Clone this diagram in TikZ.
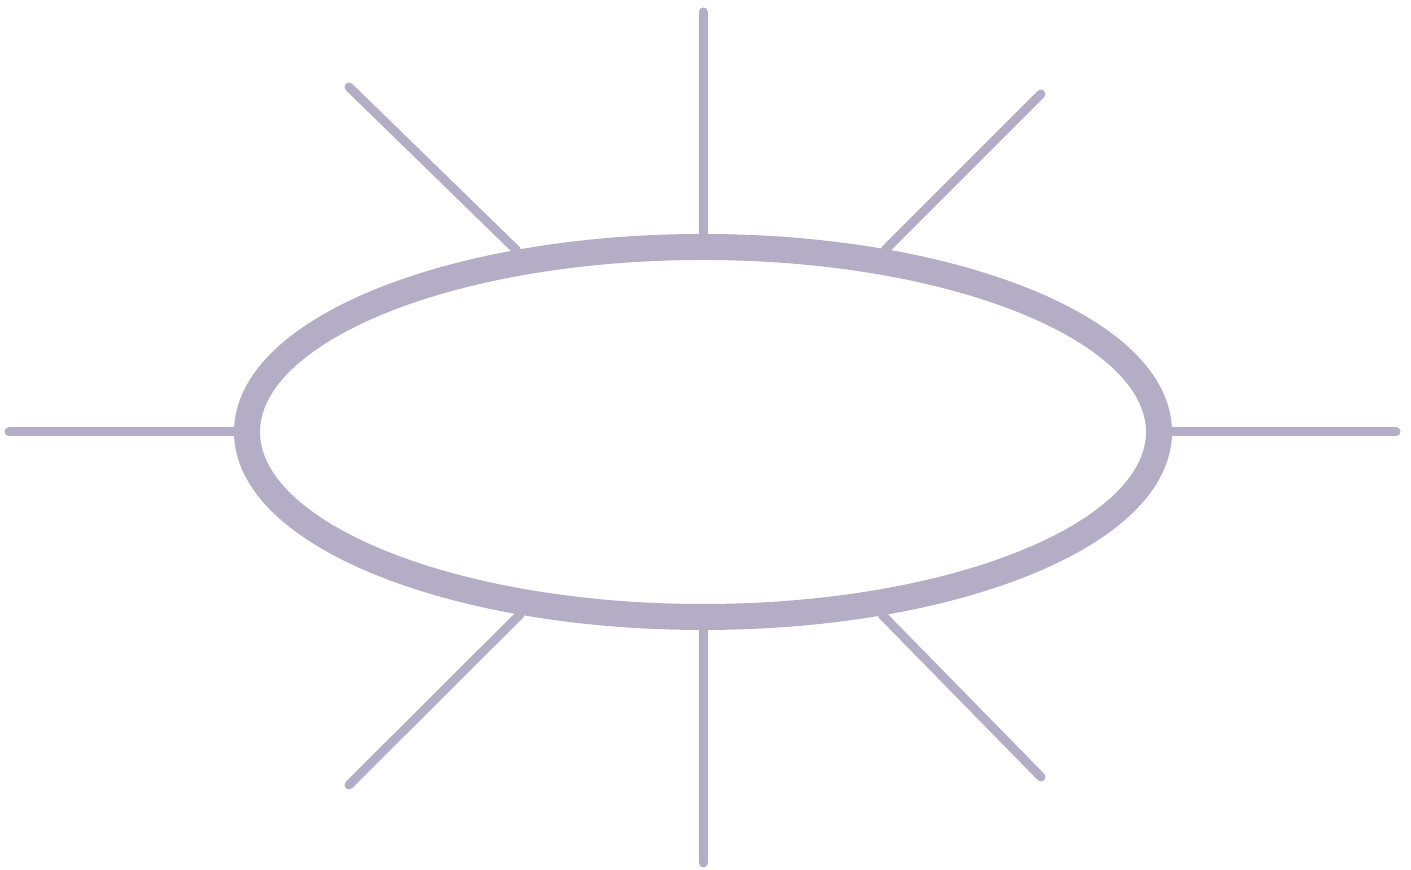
\documentclass[tikz,border=0pt]{standalone}
\usetikzlibrary{shapes.geometric}

\definecolor{lilac}{RGB}{181,173,198}

\begin{document}
\begin{tikzpicture}[
    hub/.style={ellipse, draw=lilac, line width=0.26cm, inner sep=0pt,
                minimum width=9.12cm, minimum height=3.70cm},
    spoke/.style={draw=lilac, line width=0.09cm, line cap=round}
]
    \useasboundingbox (0,0) rectangle (14.11,8.70);

    % Central ring
    \node[hub] (ring) at (7.03, 4.38) {};

    % Outer ends of the rays
    \coordinate (n)  at ( 7.03, 8.58);
    \coordinate (s)  at ( 7.03, 0.07);
    \coordinate (w)  at ( 0.09, 4.38);
    \coordinate (e)  at (13.96, 4.38);
    \coordinate (nw) at ( 3.49, 7.83);
    \coordinate (ne) at (10.41, 7.76);
    \coordinate (sw) at ( 3.49, 0.85);
    \coordinate (se) at (10.41, 0.93);

    % Rays
    \draw[spoke] (n)  -- (ring);
    \draw[spoke] (s)  -- (ring);
    \draw[spoke] (w)  -- (ring);
    \draw[spoke] (e)  -- (ring);
    \draw[spoke] (nw) -- (ring);
    \draw[spoke] (ne) -- (ring);
    \draw[spoke] (sw) -- (ring);
    \draw[spoke] (se) -- (ring);

\end{tikzpicture}
\end{document}
